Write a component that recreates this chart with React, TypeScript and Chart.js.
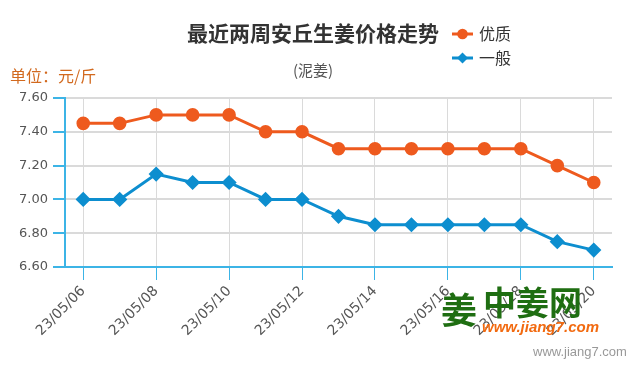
import React, { useEffect, useRef } from "react";
import { Chart, registerables } from "chart.js";

Chart.register(...registerables);

const categories = [
  "23/05/06", "23/05/07", "23/05/08", "23/05/09", "23/05/10",
  "23/05/11", "23/05/12", "23/05/13", "23/05/14", "23/05/15",
  "23/05/16", "23/05/17", "23/05/18", "23/05/19", "23/05/20",
];
const premiumValues = [7.45, 7.45, 7.5, 7.5, 7.5, 7.4, 7.4, 7.3, 7.3, 7.3, 7.3, 7.3, 7.3, 7.2, 7.1];
const normalValues = [7.0, 7.0, 7.15, 7.1, 7.1, 7.0, 7.0, 6.9, 6.85, 6.85, 6.85, 6.85, 6.85, 6.75, 6.7];
const seriesNames = ["优质", "一般"];
const titleText = "最近两周安丘生姜价格走势";
const subtitleText = "(泥姜)";
const unitText = "单位：元/斤";
const watermarkLogo = "中姜网";
const watermarkUrl = "www.jiang7.com";

const ORANGE = "#ee5a1e";
const BLUE = "#0d8ecf";
const AXIS_BLUE = "#3cb4e6";
const GRID = "#dadada";
const CJK = '"Noto Sans CJK SC", "Noto Sans", sans-serif';

const overlayPlugin = {
  id: "overlay",
  afterDraw(chart: any) {
    const ctx = chart.ctx as CanvasRenderingContext2D;
    ctx.save();
    ctx.textBaseline = "middle";
    // title
    ctx.fillStyle = "#333";
    ctx.font = `bold 21px ${CJK}`;
    ctx.textAlign = "center";
    ctx.fillText(titleText, 313, 33);
    // subtitle
    ctx.fillStyle = "#555";
    ctx.font = `15px ${CJK}`;
    ctx.fillText(subtitleText, 313, 70);
    // unit
    ctx.textAlign = "left";
    ctx.fillStyle = "#d2691e";
    ctx.font = `16px ${CJK}`;
    ctx.fillText(unitText, 10, 76);
    // legend
    const rows = [
      { y: 34, color: ORANGE, name: seriesNames[0], shape: "circle" },
      { y: 58, color: BLUE, name: seriesNames[1], shape: "diamond" },
    ];
    for (const r of rows) {
      ctx.strokeStyle = r.color;
      ctx.lineWidth = 3;
      ctx.beginPath();
      ctx.moveTo(452, r.y);
      ctx.lineTo(473, r.y);
      ctx.stroke();
      ctx.fillStyle = r.color;
      ctx.beginPath();
      if (r.shape === "circle") {
        ctx.arc(462.5, r.y, 5.3, 0, Math.PI * 2);
      } else {
        ctx.moveTo(462.5, r.y - 5.5);
        ctx.lineTo(468, r.y);
        ctx.lineTo(462.5, r.y + 5.5);
        ctx.lineTo(457, r.y);
        ctx.closePath();
      }
      ctx.fill();
      ctx.fillStyle = "#333";
      ctx.font = `16px ${CJK}`;
      ctx.fillText(r.name, 479, r.y);
    }
    // watermark logo
    ctx.fillStyle = "#1f6e12";
    ctx.font = `bold 36px ${CJK}`;
    ctx.fillText("姜", 441, 310);
    ctx.font = `bold 33px ${CJK}`;
    ctx.fillText(watermarkLogo, 483, 302);
    ctx.fillStyle = "#f26a10";
    ctx.font = `italic bold 15px "Liberation Sans", Arial, sans-serif`;
    ctx.fillText(watermarkUrl, 482, 328);
    ctx.fillStyle = "#999";
    ctx.font = `13px "Liberation Sans", Arial, sans-serif`;
    ctx.fillText(watermarkUrl, 533, 352);
    ctx.restore();
  },
};

export default function App() {
  const ref = useRef<HTMLCanvasElement | null>(null);
  useEffect(() => {
    if (!ref.current) return;
    const chart = new Chart(ref.current, {
      type: "line",
      data: {
        labels: categories,
        datasets: [
          {
            label: seriesNames[0],
            data: premiumValues,
            borderColor: ORANGE,
            backgroundColor: ORANGE,
            borderWidth: 3,
            pointStyle: "circle",
            pointRadius: 5.3,
            pointHoverRadius: 5.3,
            tension: 0,
          },
          {
            label: seriesNames[1],
            data: normalValues,
            borderColor: BLUE,
            backgroundColor: BLUE,
            borderWidth: 3,
            pointStyle: "rectRot",
            pointRadius: 5.5,
            pointHoverRadius: 5.5,
            tension: 0,
          },
        ],
      },
      options: {
        responsive: false,
        animation: false,
        devicePixelRatio: 1,
        layout: { padding: { top: 98, right: 23, left: 0, bottom: 0 } },
        plugins: {
          legend: { display: false },
          title: { display: false },
          tooltip: { enabled: false },
        },
        scales: {
          x: {
            type: "category",
            offset: true,
            afterFit: (s: any) => {
              s.height = 108;
            },
            grid: {
              color: (c: any) => (c.index % 2 === 0 ? GRID : "rgba(0,0,0,0)"),
              tickColor: (c: any) => (c.index % 2 === 0 ? AXIS_BLUE : "rgba(0,0,0,0)"),
              tickLength: 13,
              lineWidth: 1,
              offset: false,
            },
            border: { color: AXIS_BLUE, width: 2 },
            ticks: {
              autoSkip: false,
              maxRotation: 45,
              minRotation: 45,
              padding: 3,
              color: "#555",
              font: { family: '"DejaVu Sans", sans-serif', size: 14 },
              callback: (_v: any, i: number) => (i % 2 === 0 ? categories[i] : ""),
            },
          },
          y: {
            min: 6.6,
            max: 7.6,
            afterFit: (s: any) => {
              s.width = 65;
            },
            grid: {
              color: GRID,
              tickColor: AXIS_BLUE,
              tickLength: 12,
              lineWidth: 2,
            },
            border: { color: AXIS_BLUE, width: 2 },
            ticks: {
              stepSize: 0.2,
              padding: 5,
              color: "#555",
              font: { family: '"DejaVu Sans", sans-serif', size: 13 },
              callback: (v: any) => Number(v).toFixed(2),
            },
          },
        },
      },
      plugins: [overlayPlugin],
    });
    return () => chart.destroy();
  }, []);
  return (
    <div style={{ position: "absolute", left: 0, top: 0, width: 635, height: 375, background: "#fff" }}>
      <canvas ref={ref} width={635} height={375} />
    </div>
  );
}
